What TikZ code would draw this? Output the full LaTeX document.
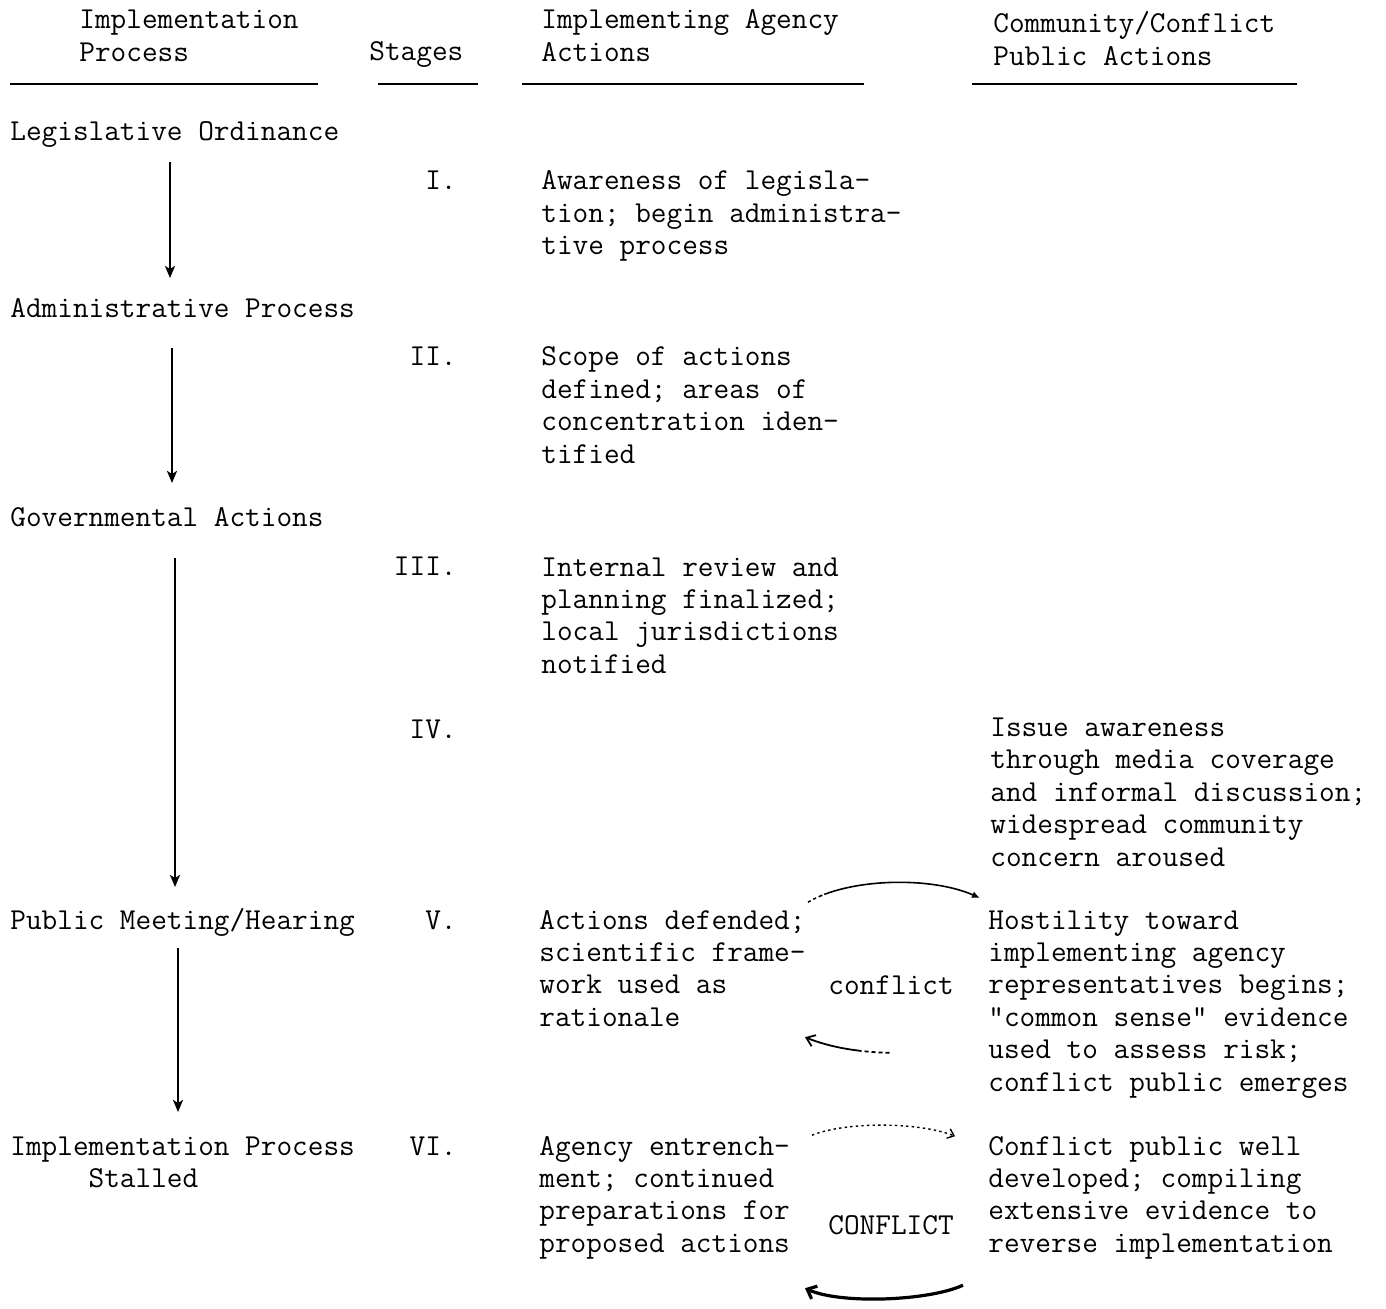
\documentclass[tikz,border=0pt]{standalone}
\usepackage{fontspec}
\usepackage{tikz}
\usetikzlibrary{arrows.meta,positioning,calc}
\newcommand{\typew}{\ttfamily\fontsize{15.2}{16.2}\selectfont}

\begin{document}
\begin{tikzpicture}[
  x=0.5pt, y=-0.5pt,
  txt/.style={inner sep=0pt, anchor=base west, align=left, yshift=-1pt, font=\typew},
  stg/.style={inner sep=0pt, anchor=base east, yshift=-1pt, font=\typew},
  rule/.style={line width=0.9pt},
  flow/.style={line width=1.3pt, -{Stealth[length=6pt,width=5pt,inset=1.5pt]}},
  loopthin/.style={line width=0.8pt, dash pattern=on 1.5pt off 1.5pt on 1.5pt off 1.5pt on 2pt off 1pt on 200pt, -{Latex[length=4pt,width=3.5pt]}},
  loopback/.style={line width=0.9pt, dash pattern=on 28pt off 1.5pt on 2pt off 1.5pt on 2pt off 1.5pt on 2pt off 1.5pt on 2pt off 60pt, {Straight Barb[length=4pt,width=6pt]}-},
  loopdot/.style={line width=0.7pt, dash pattern=on 1.2pt off 1.6pt, -{Straight Barb[length=3pt,width=5pt]}},
  loopthick/.style={line width=1.6pt, {Straight Barb[length=4pt,width=7pt]}-}
]
\useasboundingbox (0,0) rectangle (1386,1309);

% column heads (base = last line)
\node[txt] (hproc) at (79,59.4) {Implementation\\Process};
\node[txt] (hstage) at (369,59) {Stages};
\node[txt] (hagency) at (541,59.4) {Implementing Agency\\Actions};
\node[txt] (hpublic) at (993,63.4) {Community/Conflict\\Public Actions};
\draw[rule] (10,84) -- (318,84);
\draw[rule] (378,84) -- (478,84);
\draw[rule] (522,84) -- (864,84);
\draw[rule] (972,84) -- (1297,84);

% implementation process
\node[txt] (leg) at (10,139) {Legislative Ordinance};
\node[txt] (adm) at (10,316) {Administrative Process};
\node[txt] (gov) at (10,525) {Governmental Actions};
\node[txt] (pub) at (10,927) {Public Meeting/Hearing};
\node[txt] (stall) at (10,1185.4) {Implementation Process\\\phantom{Imple}Stalled};

\draw[flow] ([shift={(160,21)}]leg.base west) -- ([shift={(160,-40)}]adm.base west);
\draw[flow] ([shift={(162,30)}]adm.base west) -- ([shift={(162,-44)}]gov.base west);
\draw[flow] ([shift={(165,31)}]gov.base west) -- ([shift={(165,-42)}]pub.base west);
\draw[flow] ([shift={(168,19)}]pub.base west) -- ([shift={(168,-75.4)}]stall.base west);

% stages
\node[stg] (sI) at (457,188) {I.};
\node[stg] (sII) at (457,364) {II.};
\node[stg] (sIII) at (457,574) {III.};
\node[stg] (sIV) at (457,736) {IV.};
\node[stg] (sV) at (457,927) {V.};
\node[stg] (sVI) at (457,1153) {VI.};

% implementing agency actions
\node[txt] (agI) at (541,252.8) {Awareness of legisla-\\tion; begin administra-\\tive process};
\node[txt] (agII) at (541,461.2) {Scope of actions\\defined; areas of\\concentration iden-\\tified};
\node[txt] (agIII) at (541,671.2) {Internal review and\\planning finalized;\\local jurisdictions\\notified};
\node[txt] (agV) at (539,1024.2) {Actions defended;\\scientific frame-\\work used as\\rationale};
\node[txt] (agVI) at (539,1250.2) {Agency entrench-\\ment; continued\\preparations for\\proposed actions};

% community/conflict public actions
\node[txt] (cmIV) at (990,864) {Issue awareness\\through media coverage\\and informal discussion;\\widespread community\\concern aroused};
\node[txt] (cmV) at (988,1089) {Hostility toward\\implementing agency\\representatives begins;\\"common sense" evidence\\used to assess risk;\\conflict public emerges};
\node[txt] (cmVI) at (988,1250.2) {Conflict public well\\developed; compiling\\extensive evidence to\\reverse implementation};

% conflict loops
\node[txt] (cfV) at (828,992) {conflict};
\node[txt] (cfVI) at (828,1232) {CONFLICT};

\draw[loopthin] ([shift={(269,-124)}]agV.base west) .. controls +(40,-24) and +(-50,-22) .. ([shift={(-8,-193)}]cmV.base west);
\draw[loopback] ([shift={(266,11)}]agV.base west) .. controls +(25,10) and +(-40,0) .. ([shift={(-88,-38)}]cmV.base west);
\draw[loopdot] ([shift={(273,-117)}]agVI.base west) .. controls +(35,-14) and +(-35,-14) .. ([shift={(-33,-116)}]cmVI.base west);
\draw[loopthick] ([shift={(266,36)}]agVI.base west) .. controls +(35,16) and +(-35,16) .. ([shift={(-25,33)}]cmVI.base west);
\end{tikzpicture}
\end{document}
